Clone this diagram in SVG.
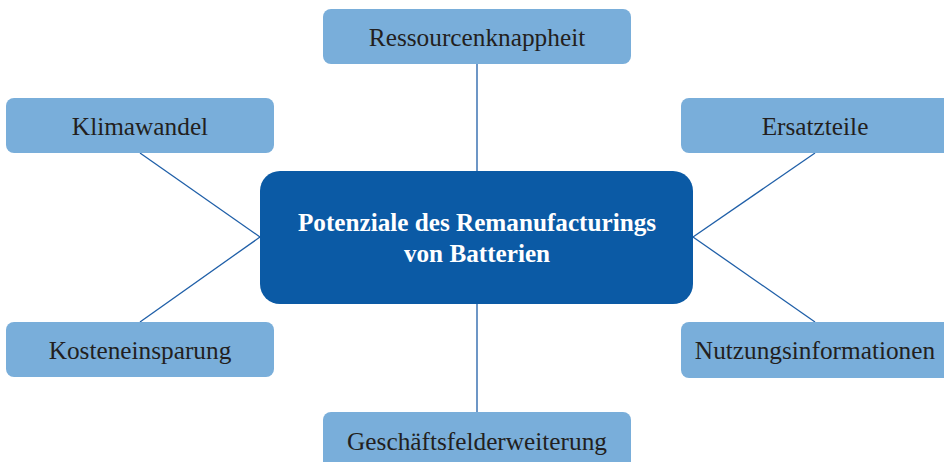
<svg xmlns="http://www.w3.org/2000/svg" width="944" height="462" viewBox="0 0 944 462">
<style>
.box{fill:#79aeda;}
.lbl{font-family:"Liberation Serif","Times New Roman",serif;font-size:25.3px;fill:#231f20;text-anchor:middle;}
.ctr{font-family:"Liberation Serif","Times New Roman",serif;font-size:25.2px;font-weight:bold;fill:#ffffff;text-anchor:middle;}
.con{stroke:#1f5fa8;stroke-width:1.3;fill:none;}
</style>
<rect width="944" height="462" fill="#ffffff"/>
<g id="connectors">
<line class="con" x1="477" y1="64" x2="477" y2="171"/>
<line class="con" x1="477" y1="304" x2="477" y2="412"/>
<line class="con" x1="140" y1="153" x2="260" y2="237"/>
<line class="con" x1="260" y1="237" x2="140" y2="322"/>
<line class="con" x1="693" y1="237" x2="815" y2="153"/>
<line class="con" x1="693" y1="237" x2="815" y2="322"/>
</g>
<g id="center">
<rect x="260" y="171" width="433" height="133" rx="20" fill="#0b5aa5"/>
<text class="ctr" x="477" y="231">Potenziale des Remanufacturings</text>
<text class="ctr" x="477" y="262">von Batterien</text>
</g>
<g id="ressourcenknappheit">
<rect class="box" x="323" y="9" width="308" height="55" rx="8"/>
<text class="lbl" x="477" y="46">Ressourcenknappheit</text>
</g>
<g id="klimawandel">
<rect class="box" x="6" y="98" width="268" height="55" rx="8"/>
<text class="lbl" x="140" y="135">Klimawandel</text>
</g>
<g id="ersatzteile">
<rect class="box" x="681" y="98" width="272" height="55" rx="8"/>
<text class="lbl" x="815" y="135">Ersatzteile</text>
</g>
<g id="kosteneinsparung">
<rect class="box" x="6" y="322" width="268" height="55" rx="8"/>
<text class="lbl" x="140" y="359">Kosteneinsparung</text>
</g>
<g id="nutzungsinformationen">
<rect class="box" x="681" y="322" width="272" height="56" rx="8"/>
<text class="lbl" x="815" y="359">Nutzungsinformationen</text>
</g>
<g id="geschaeftsfelderweiterung">
<rect class="box" x="323" y="412" width="308" height="60" rx="8"/>
<text class="lbl" x="477" y="450">Geschäftsfelderweiterung</text>
</g>
</svg>
